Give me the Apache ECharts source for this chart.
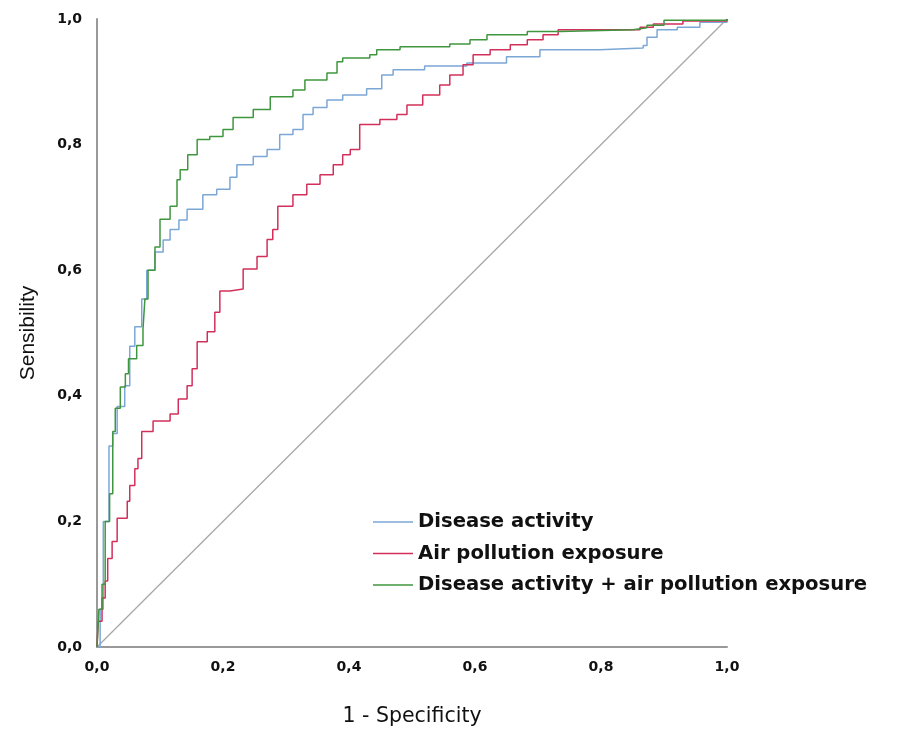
<!DOCTYPE html>
<html>
<head>
<meta charset="utf-8">
<script src="https://cdn.jsdelivr.net/npm/echarts@6/dist/echarts.min.js"></script>
<style>
html,body{margin:0;padding:0;background:#fff;}
#chart{width:898px;height:732px;}
</style>
</head>
<body>
<div id="chart"></div>
<script>
// Tick labels
const tickValues = [0, 0.2, 0.4, 0.6, 0.8, 1.0];
// Series names
const seriesNames = ['Disease activity', 'Air pollution exposure', 'Disease activity + air pollution exposure'];

// Disease activity (1 - specificity, sensitivity)
const diseaseFpr = [0,0.005,0.01,0.019,0.025,0.032,0.044,0.052,0.06,0.071,0.079,0.092,0.105,0.116,0.13,0.143,0.168,0.19,0.211,0.222,0.248,0.27,0.29,0.311,0.327,0.343,0.365,0.39,0.428,0.452,0.47,0.52,0.587,0.65,0.703,0.798,0.867,0.873,0.889,0.921,0.957,1];
const diseaseTpr = [0,0.06,0.2,0.32,0.34,0.383,0.416,0.479,0.51,0.554,0.6,0.629,0.648,0.665,0.68,0.697,0.72,0.729,0.748,0.768,0.781,0.792,0.816,0.824,0.848,0.859,0.871,0.879,0.889,0.911,0.919,0.925,0.93,0.94,0.951,0.954,0.958,0.971,0.983,0.987,0.995,1];

// Air pollution exposure
const airFpr = [0,0.002,0.008,0.013,0.017,0.024,0.032,0.048,0.052,0.06,0.065,0.071,0.089,0.116,0.129,0.143,0.151,0.159,0.175,0.187,0.195,0.211,0.232,0.254,0.27,0.279,0.287,0.311,0.333,0.354,0.375,0.39,0.402,0.417,0.449,0.476,0.492,0.517,0.544,0.56,0.581,0.597,0.624,0.656,0.683,0.708,0.732,0.862,0.883,0.93,1];
const airTpr = [0,0.041,0.078,0.105,0.141,0.168,0.205,0.232,0.257,0.284,0.3,0.343,0.36,0.371,0.395,0.416,0.443,0.486,0.502,0.533,0.567,0.57,0.602,0.622,0.649,0.665,0.702,0.72,0.737,0.752,0.768,0.784,0.792,0.832,0.84,0.848,0.863,0.879,0.895,0.911,0.927,0.943,0.951,0.959,0.967,0.975,0.983,0.987,0.992,0.997,1];

// Disease activity + air pollution exposure
const comboFpr = [0,0.003,0.008,0.013,0.02,0.025,0.029,0.037,0.045,0.05,0.063,0.073,0.076,0.081,0.092,0.1,0.116,0.127,0.132,0.144,0.159,0.179,0.2,0.216,0.248,0.275,0.311,0.33,0.365,0.381,0.39,0.433,0.444,0.481,0.56,0.592,0.619,0.683,0.735,0.851,0.873,0.9,1];
const comboTpr = [0,0.06,0.1,0.2,0.244,0.343,0.38,0.414,0.435,0.459,0.48,0.506,0.554,0.6,0.637,0.681,0.702,0.744,0.76,0.784,0.808,0.813,0.824,0.843,0.856,0.876,0.887,0.903,0.914,0.932,0.938,0.943,0.951,0.956,0.96,0.967,0.975,0.98,0.983,0.986,0.99,0.998,1];

// Reference diagonal
const diagX = [0, 1];
const diagY = [0, 1];

const zip = (a, b) => a.map((v, i) => [v, b[i]]);
const colors = ['#7ba7d6', '#d2305a', '#3f963f'];
const fmt = v => v.toFixed(1).replace('.', ',');

const chart = echarts.init(document.getElementById('chart'), null, {renderer: 'canvas'});
chart.setOption({
  backgroundColor: '#ffffff',
  animation: false,
  grid: {left: 97, top: 19, width: 630, height: 630, containLabel: false},
  legend: {
    data: seriesNames,
    orient: 'vertical',
    left: 373,
    top: 512,
    padding: 0,
    icon: 'rect',
    itemWidth: 40,
    itemHeight: 1.5,
    itemGap: 11.5,
    textStyle: {fontFamily: 'DejaVu Sans', fontWeight: 'bold', fontSize: 19.6, color: '#111'}
  },
  xAxis: {
    type: 'value', min: 0, max: 1, interval: 0.2,
    name: '1 - Specificity', nameLocation: 'middle', nameGap: 59,
    nameTextStyle: {fontFamily: 'DejaVu Sans', fontSize: 20.5, color: '#111'},
    axisLine: {show: true, lineStyle: {color: '#999', width: 2}},
    axisTick: {show: false},
    splitLine: {show: false},
    axisLabel: {margin: 13, formatter: fmt, fontFamily: 'DejaVu Sans', fontWeight: 'bold', fontSize: 14, color: '#111'}
  },
  yAxis: {
    type: 'value', min: 0, max: 1, interval: 0.2,
    name: 'Sensibility', nameLocation: 'middle', nameGap: 58,
    nameTextStyle: {fontFamily: 'Liberation Sans, Arial, sans-serif', fontSize: 21, color: '#111'},
    axisLine: {show: true, lineStyle: {color: '#999', width: 2}},
    axisTick: {show: false},
    splitLine: {show: false},
    axisLabel: {margin: 15, formatter: fmt, fontFamily: 'DejaVu Sans', fontWeight: 'bold', fontSize: 14, color: '#111'}
  },
  series: [
    {name: 'diag', type: 'line', data: zip(diagX, diagY), symbol: 'none', silent: true,
     lineStyle: {color: '#a8a8a8', width: 1.3}, z: 1},
    {name: seriesNames[0], type: 'line', step: 'end', data: zip(diseaseFpr, diseaseTpr), symbol: 'none',
     lineStyle: {color: colors[0], width: 1.5}, itemStyle: {color: colors[0]}, z: 2},
    {name: seriesNames[1], type: 'line', step: 'end', data: zip(airFpr, airTpr), symbol: 'none',
     lineStyle: {color: colors[1], width: 1.5}, itemStyle: {color: colors[1]}, z: 3},
    {name: seriesNames[2], type: 'line', step: 'end', data: zip(comboFpr, comboTpr), symbol: 'none',
     lineStyle: {color: colors[2], width: 1.5}, itemStyle: {color: colors[2]}, z: 4}
  ]
});
</script>
</body>
</html>
